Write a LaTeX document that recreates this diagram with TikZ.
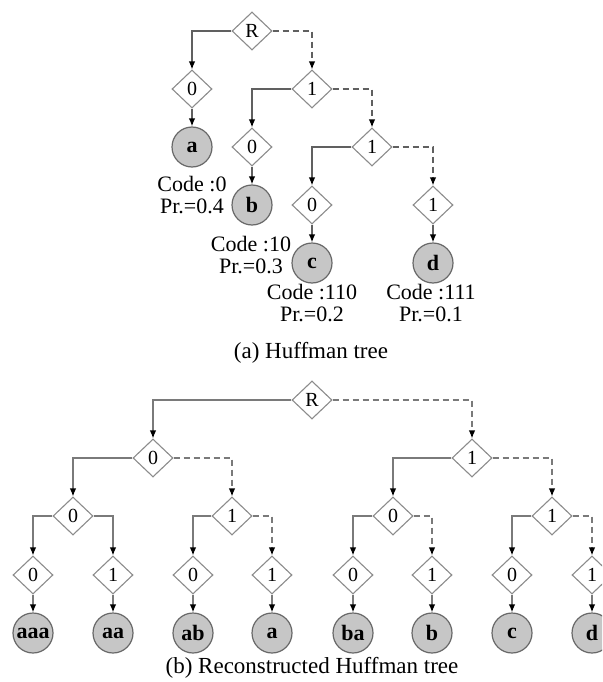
\documentclass[tikz,border=0pt]{standalone}
\usepackage{fontspec}
\setmainfont{Liberation Serif}
\usetikzlibrary{shapes.geometric,arrows.meta}
\definecolor{edgegrey}{HTML}{606060}
\definecolor{edgelight}{HTML}{7A7A7A}
\definecolor{boxgrey}{HTML}{8C8C8C}
\definecolor{leafline}{HTML}{686868}
\definecolor{leaffill}{HTML}{C6C6C6}
\tikzset{
  bit/.style={diamond, draw=boxgrey, line width=1.1pt, fill=white,
    minimum width=40pt, minimum height=38pt, inner sep=0pt,
    font=\fontsize{20}{22}\selectfont},
  leaf/.style={circle, draw=leafline, line width=1.2pt, fill=leaffill,
    minimum size=40pt, inner sep=0pt,
    font=\fontsize{22}{24}\selectfont\bfseries},
  codelbl/.style={align=center, inner sep=0pt,
    font=\fontsize{22}{22.5}\selectfont},
  caption/.style={inner sep=0pt, font=\fontsize{23}{25}\selectfont},
  link/.style={line width=1.3pt, -{Latex[length=8pt,width=6.5pt,color=black]}},
  zero/.style={link},
  one/.style={link, dash pattern=on 6pt off 4pt},
}
\begin{document}
\begin{tikzpicture}[x=1pt,y=-1pt]
\useasboundingbox (0,0) rectangle (602,682);
\clip (0,0) rectangle (602,682);

% ---------- (a) Huffman tree ----------
\node[bit] (tR) at (252,31) {R};
\node[bit] (t0) at (192,89) {0};
\node[leaf] (ta) at (192,147) {a};
\node[bit] (t1) at (312,89) {1};
\node[bit] (t10) at (252,147) {0};
\node[leaf] (tb) at (252,205) {b};
\node[bit] (t11) at (372,147) {1};
\node[bit] (t110) at (312,205) {0};
\node[leaf] (tc) at (312,263) {c};
\node[bit] (t111) at (433,205) {1};
\node[leaf] (td) at (433,263) {d};

\draw[zero, edgegrey] (tR.west) -| (t0.north);
\draw[one, edgegrey] (tR.east) -| (t1.north);
\draw[zero, edgegrey] (t0.south) -- (ta.north);
\draw[zero, edgegrey] (t1.west) -| (t10.north);
\draw[one, edgegrey] (t1.east) -| (t11.north);
\draw[zero, edgegrey] (t10.south) -- (tb.north);
\draw[zero, edgegrey] (t11.west) -| (t110.north);
\draw[one, edgegrey] (t11.east) -| (t111.north);
\draw[zero, edgegrey] (t110.south) -- (tc.north);
\draw[zero, edgegrey] (t111.south) -- (td.north);

\node[codelbl] (ca) at (192,195) {Code :0\\Pr.=0.4};
\node[codelbl] (cb) at (251,255) {Code :10\\Pr.=0.3};
\node[codelbl] (cc) at (312,303) {Code :110\\Pr.=0.2};
\node[codelbl] (cd) at (431,303) {Code :111\\Pr.=0.1};
\node[caption] (capa) at (311,353) {(a) Huffman tree};

% ---------- (b) Reconstructed Huffman tree ----------
\node[bit] (bR) at (312,400) {R};
\node[bit] (b0) at (153,458) {0};
\node[bit] (b1) at (472,458) {1};
\node[bit] (b00) at (73,516) {0};
\node[bit] (b01) at (232,516) {1};
\node[bit] (b10) at (393,516) {0};
\node[bit] (b11) at (552,516) {1};

\node[bit] (b000) at (33,575) {0};
\node[bit] (b001) at (113,575) {1};
\node[bit] (b010) at (193,575) {0};
\node[bit] (b011) at (272,575) {1};
\node[bit] (b100) at (353,575) {0};
\node[bit] (b101) at (432,575) {1};
\node[bit] (b110) at (512,575) {0};
\node[bit] (b111) at (592,575) {1};

\node[leaf] (laaa) at (33,633) {aaa};
\node[leaf] (laa) at (113,633) {aa};
\node[leaf] (lab) at (193,633) {ab};
\node[leaf] (la) at (272,633) {a};
\node[leaf] (lba) at (353,633) {ba};
\node[leaf] (lb) at (432,633) {b};
\node[leaf] (lc) at (512,633) {c};
\node[leaf] (ld) at (592,633) {d};

\draw[zero, edgelight] (bR.west) -| (b0.north);
\draw[one, edgelight] (bR.east) -| (b1.north);
\draw[zero, edgelight] (b0.west) -| (b00.north);
\draw[one, edgelight] (b0.east) -| (b01.north);
\draw[zero, edgelight] (b1.west) -| (b10.north);
\draw[one, edgelight] (b1.east) -| (b11.north);
\draw[zero, edgelight] (b00.west) -| (b000.north);
\draw[zero, edgelight] (b00.east) -| (b001.north);
\draw[zero, edgelight] (b01.west) -| (b010.north);
\draw[one, edgelight] (b01.east) -| (b011.north);
\draw[zero, edgelight] (b10.west) -| (b100.north);
\draw[one, edgelight] (b10.east) -| (b101.north);
\draw[zero, edgelight] (b11.west) -| (b110.north);
\draw[one, edgelight] (b11.east) -| (b111.north);
\foreach \d/\l in {b000/laaa,b001/laa,b010/lab,b011/la,b100/lba,b101/lb,b110/lc,b111/ld}
  \draw[zero, edgelight] (\d.south) -- (\l.north);

\node[caption] (capb) at (312,668) {(b) Reconstructed Huffman tree};
\end{tikzpicture}
\end{document}
